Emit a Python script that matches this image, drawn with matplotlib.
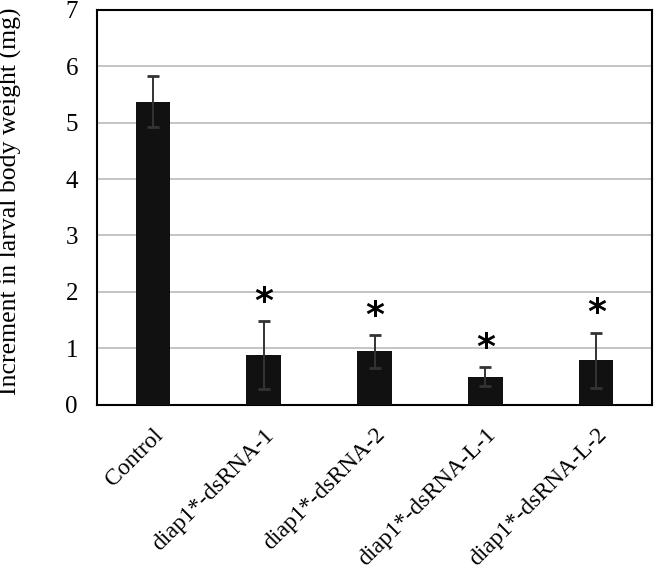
import matplotlib
matplotlib.use("Agg")
import matplotlib.pyplot as plt

# data
groups = ["Control", "diap1*-dsRNA-1", "diap1*-dsRNA-2", "diap1*-dsRNA-L-1", "diap1*-dsRNA-L-2"]
means = [5.37, 0.88, 0.95, 0.50, 0.79]
errors = [0.45, 0.60, 0.29, 0.17, 0.49]
significant = [False, True, True, True, True]

plt.rcParams['font.family'] = 'serif'
plt.rcParams['font.serif'] = ['Liberation Serif', 'DejaVu Serif']

fig = plt.figure(figsize=(6.55, 5.70), dpi=100)
ax = fig.add_axes([0.1486, 0.2895, 0.8464, 0.6938])

x = list(range(len(groups)))
ax.bar(x, means, width=0.31, color='#111111', zorder=3)
ax.errorbar(x, means, yerr=errors, fmt='none', ecolor='#333333',
            elinewidth=1.4, capsize=4, capthick=2, zorder=4)

# asterisks above the error bars
for xi, m, e, s in zip(x, means, errors, significant):
    if s:
        ax.text(xi, m + e + 0.34, "*", ha='center', va='center',
                fontsize=26, fontweight='bold', family='DejaVu Sans', zorder=5)

ax.set_xlim(-0.5, len(groups) - 0.5)
ax.set_ylim(0, 7)
ax.set_yticks(range(0, 8))
ax.yaxis.grid(True, color='#bfbfbf', linewidth=1.3, zorder=0)
ax.set_axisbelow(True)
ax.tick_params(axis='both', length=0, labelsize=18)
ax.tick_params(axis='y', pad=14)
ax.set_xticks(x)
ax.set_xticklabels(groups, rotation=45, ha='right', rotation_mode='anchor', fontsize=17)
ax.tick_params(axis='x', pad=14)
ax.set_ylabel("Increment in larval body weight (mg)", fontsize=18.5)
ax.yaxis.set_label_coords(-0.136, 0.515)

for sp in ax.spines.values():
    sp.set_linewidth(1.5)
    sp.set_color('black')

fig.savefig("out.png", dpi=100)
